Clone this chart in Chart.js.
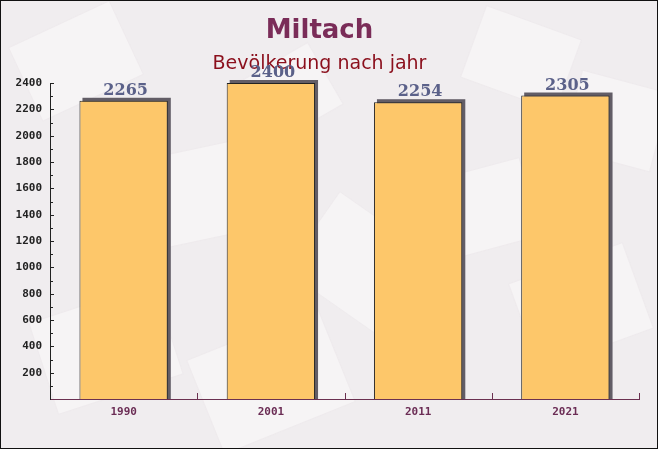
<!DOCTYPE html>
<html lang="de">
<head>
    <meta charset="UTF-8">
    <title>Miltach - Bevölkerung nach jahr</title>
    <script src="https://cdn.jsdelivr.net/npm/chart.js"></script>
    <style>
        body {
            margin: 0;
            padding: 0;
            background: #fff;
        }

        #wrap {
            position: relative;
            width: 658px;
            height: 449px;
            overflow: hidden;
            background: #f0edef;
        }

        /* faint envelope shapes in the background */
        .env {
            position: absolute;
            background: rgba(255, 255, 255, 0.38);
            border: 1px solid rgba(232, 226, 230, 0.5);
        }

        canvas {
            position: absolute;
            left: 0;
            top: 0;
        }
    </style>
</head>
<body>
    <div id="wrap">
        <div class="env" style="left:20px;top:20px;width:110px;height:80px;transform:rotate(-25deg)"></div>
        <div class="env" style="left:130px;top:150px;width:120px;height:90px;transform:rotate(-12deg)"></div>
        <div class="env" style="left:300px;top:220px;width:130px;height:95px;transform:rotate(35deg)"></div>
        <div class="env" style="left:420px;top:170px;width:110px;height:80px;transform:rotate(-15deg)"></div>
        <div class="env" style="left:520px;top:260px;width:120px;height:90px;transform:rotate(-20deg)"></div>
        <div class="env" style="left:470px;top:20px;width:100px;height:75px;transform:rotate(20deg)"></div>
        <div class="env" style="left:40px;top:300px;width:130px;height:95px;transform:rotate(-18deg)"></div>
        <div class="env" style="left:200px;top:330px;width:140px;height:100px;transform:rotate(-22deg)"></div>
        <div class="env" style="left:570px;top:80px;width:90px;height:80px;transform:rotate(15deg)"></div>
        <div class="env" style="left:240px;top:60px;width:90px;height:70px;transform:rotate(-30deg)"></div>
        <canvas id="popChart" width="658" height="449"></canvas>
    </div>

    <script>
        // data
        const years = ["1990", "2001", "2011", "2021"];
        const population = [2265, 2400, 2254, 2305];
        const yMax = 2400;
        const yStep = 100;

        // 3D-ish shadow behind every bar
        const barShadow = {
            id: "barShadow",
            beforeDatasetsDraw(chart) {
                const ctx = chart.ctx;
                const meta = chart.getDatasetMeta(0);
                ctx.save();
                ctx.fillStyle = "#625d66";
                meta.data.forEach(bar => {
                    const p = bar.getProps(["x", "y", "base", "width"], true);
                    const left = p.x - p.width / 2 + 3;
                    ctx.fillRect(left, p.y - 3, p.width, p.base - p.y + 3);
                });
                ctx.restore();
            }
        };

        // value labels, inner tick marks and the frame
        const extras = {
            id: "extras",
            afterDatasetsDraw(chart) {
                const ctx = chart.ctx;
                const meta = chart.getDatasetMeta(0);
                ctx.save();
                ctx.font = "bold 16px 'DejaVu Serif', serif";
                ctx.fillStyle = "#5b6189";
                ctx.textAlign = "center";
                ctx.textBaseline = "alphabetic";
                meta.data.forEach((bar, i) => {
                    const p = bar.getProps(["x", "y"], true);
                    ctx.fillText(population[i], p.x + 2, p.y - 6);
                });
                ctx.restore();
            },
            afterDraw(chart) {
                const ctx = chart.ctx;
                const area = chart.chartArea;
                const xs = chart.scales.x;
                const ys = chart.scales.y;
                ctx.save();
                ctx.strokeStyle = "#222";
                ctx.lineWidth = 1;
                ctx.beginPath();
                // y ticks pointing into the plot
                ys.ticks.forEach(t => {
                    if (t.value === 0) return;
                    const y = Math.round(ys.getPixelForValue(t.value)) + 0.5;
                    const len = t.value % 200 === 0 ? 4 : 3;
                    ctx.moveTo(area.left, y);
                    ctx.lineTo(area.left + len, y);
                });
                ctx.stroke();
                // x ticks at category boundaries
                ctx.strokeStyle = "#6b3050";
                ctx.beginPath();
                const half = (xs.getPixelForValue(1) - xs.getPixelForValue(0)) / 2;
                for (let i = 0; i < years.length; i++) {
                    const x = Math.round(xs.getPixelForValue(i) + half) + 0.5;
                    ctx.moveTo(x, area.bottom);
                    ctx.lineTo(x, area.bottom - 6);
                }
                ctx.stroke();
                // frame
                ctx.strokeStyle = "#111";
                ctx.strokeRect(0.5, 0.5, chart.width - 1, chart.height - 1);
                ctx.restore();
            }
        };

        const ctx = document.getElementById("popChart").getContext("2d");

        new Chart(ctx, {
            type: "bar",
            data: {
                labels: years,
                datasets: [{
                    data: population,
                    backgroundColor: "#fdc76a",
                    borderColor: "#222",
                    borderWidth: 1,
                    barPercentage: 0.6,
                    categoryPercentage: 1.0
                }]
            },
            options: {
                responsive: false,
                animation: false,
                layout: {
                    padding: { left: 0, right: 19, top: 0, bottom: 0 }
                },
                plugins: {
                    legend: { display: false },
                    tooltip: { enabled: false },
                    title: {
                        display: true,
                        text: "Miltach",
                        color: "#7a2c58",
                        font: { family: "'DejaVu Sans', sans-serif", size: 26, weight: "bold", lineHeight: 1.2 },
                        padding: { top: 16, bottom: 0 }
                    },
                    subtitle: {
                        display: true,
                        text: "Bevölkerung nach jahr",
                        color: "#8b0f1c",
                        font: { family: "'DejaVu Sans', sans-serif", size: 19, lineHeight: 1.2 },
                        padding: { top: 5, bottom: 8 }
                    }
                },
                scales: {
                    x: {
                        offset: true,
                        grid: { display: false, drawTicks: false, tickLength: 0 },
                        border: { display: true, color: "#6b3050", width: 1 },
                        ticks: {
                            color: "#6b2d55",
                            font: { family: "'DejaVu Sans Mono', monospace", size: 11, weight: "bold" },
                            padding: 7
                        },
                        afterFit(scale) { scale.height = 50; }
                    },
                    y: {
                        min: 0,
                        max: yMax,
                        grid: { display: false, drawTicks: false, tickLength: 0 },
                        border: { display: true, color: "#222", width: 1 },
                        ticks: {
                            stepSize: yStep,
                            autoSkip: false,
                            color: "#222",
                            padding: 8,
                            font: { family: "'DejaVu Sans Mono', monospace", size: 11, weight: "bold" },
                            callback: v => (v % 200 === 0 && v !== 0) ? v : ""
                        },
                        afterFit(scale) { scale.width = 50; }
                    }
                }
            },
            plugins: [barShadow, extras]
        });
    </script>
</body>
</html>
